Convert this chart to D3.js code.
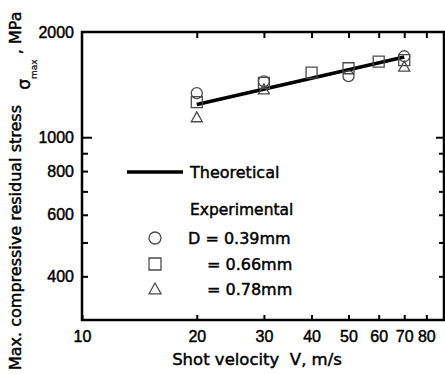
<!DOCTYPE html>
<html><head><meta charset="utf-8">
<script src="https://cdn.jsdelivr.net/npm/d3@7"></script>
<style>
html,body{margin:0;padding:0;background:#fff;}
svg{display:block;}
text{stroke:#000;stroke-width:0.45px;}
</style></head>
<body>
<svg id="chart" width="445" height="374"></svg>
<script>
// ---- data ----
const velocities = [20, 30, 40, 50, 60, 70];
const stressD039 = [1337, 1445, null, 1495, null, 1705];  // circles
const stressD066 = [1260, 1430, 1530, 1575, 1645, 1662];  // squares
const stressD078 = [1140, 1370, null, null, null, 1592];  // triangles
const theoryV = [20, 70];
const theoryStress = [1240, 1696];
const xTickValues = [10, 20, 30, 40, 50, 60, 70, 80];
const yLabelValues = [400, 600, 800, 1000, 2000];
const yMinorValues = [400, 500, 600, 700, 800, 900];
const yMajorValues = [1000];
const legendItems = ["D = 0.39mm", "= 0.66mm", "= 0.78mm"];

const svg = d3.select("#chart");
const L = 82, R = 444, T = 32, B = 320;
const x = d3.scaleLog().domain([10, 89]).range([L, R]);
const y = d3.scaleLog().domain([300, 2000]).range([B, T]);

const numFont = "'Liberation Sans', Arial, sans-serif";
const txtFont = "'DejaVu Sans', sans-serif";
const markColor = "#4a4a4a";

// symbol paths
function symPath(kind, s) {
  const h = s / 2;
  if (kind === "circle") return d3.symbol().type(d3.symbolCircle).size(Math.PI * h * h)();
  if (kind === "square") return `M${-h},${-h}H${h}V${h}H${-h}Z`;
  return `M0,${-h}L${h},${h * 0.8}L${-h},${h * 0.8}Z`;
}

// axes (ticks inward)
const gB = svg.append("g").attr("transform", `translate(0,${B})`)
  .call(d3.axisBottom(x).tickValues(xTickValues).tickSize(-5).tickPadding(10.5).tickFormat(d3.format("d")));
const gT = svg.append("g").attr("transform", `translate(0,${T})`)
  .call(d3.axisTop(x).tickValues(xTickValues.slice(1)).tickSize(-6).tickFormat(""));
const gL = svg.append("g").attr("transform", `translate(${L},0)`)
  .call(d3.axisLeft(y).tickValues(yMinorValues).tickSize(-6).tickFormat(""));
const gL2 = svg.append("g").attr("transform", `translate(${L},0)`)
  .call(d3.axisLeft(y).tickValues(yMajorValues).tickSize(-10).tickFormat(""));
const gL3 = svg.append("g").attr("transform", `translate(${L},0)`)
  .call(d3.axisLeft(y).tickValues(yLabelValues).tickSize(0).tickPadding(8).tickFormat(d3.format("d")));
const gR = svg.append("g").attr("transform", `translate(${R},0)`)
  .call(d3.axisRight(y).tickValues(yMinorValues).tickSize(-5).tickFormat(""));
const gR2 = svg.append("g").attr("transform", `translate(${R},0)`)
  .call(d3.axisRight(y).tickValues(yMajorValues).tickSize(-8).tickFormat(""));

[gB, gT, gL, gL2, gL3, gR, gR2].forEach(g => {
  g.select(".domain").remove();
  g.selectAll(".tick line").attr("stroke", "#000").attr("stroke-width", 2);
  g.selectAll(".tick text").attr("font-family", numFont).attr("font-size", 16).attr("fill", "#000");
});

// frame
svg.append("rect").attr("x", x.range()[0]).attr("y", y.range()[1])
  .attr("width", x.range()[1] - x.range()[0]).attr("height", y.range()[0] - y.range()[1])
  .attr("fill", "none").attr("stroke", "#000").attr("stroke-width", 2.5);

// theoretical line
svg.append("path")
  .datum(theoryV.map((v, i) => [v, theoryStress[i]]))
  .attr("d", d3.line().x(d => x(d[0])).y(d => y(d[1])))
  .attr("fill", "none").attr("stroke", "#000").attr("stroke-width", 3.5);

// experimental markers
const series = [
  { kind: "circle", vals: stressD039 },
  { kind: "square", vals: stressD066 },
  { kind: "triangle", vals: stressD078 }
];
series.forEach(s => {
  const pts = velocities.map((v, i) => [v, s.vals[i]]).filter(d => d[1] != null);
  svg.append("g").selectAll("path").data(pts).join("path")
    .attr("transform", d => `translate(${x(d[0])},${y(d[1])})`)
    .attr("d", symPath(s.kind, 11))
    .attr("fill", "none").attr("stroke", markColor).attr("stroke-width", 1.3);
});

// legend
const lg = svg.append("g");
lg.append("line").attr("x1", 127).attr("x2", 183).attr("y1", 172).attr("y2", 172)
  .attr("stroke", "#000").attr("stroke-width", 3.5);
lg.append("text").attr("x", 190).attr("y", 178).text("Theoretical")
  .attr("font-family", txtFont).attr("font-size", 16);
lg.append("text").attr("x", 190).attr("y", 215).text("Experimental")
  .attr("font-family", txtFont).attr("font-size", 15.5);
const legY = [238, 264, 289];
const legTextX = [188, 207, 207];
series.forEach((s, i) => {
  lg.append("path").attr("transform", `translate(155,${legY[i]})`)
    .attr("d", symPath(s.kind, 12)).attr("fill", "none").attr("stroke", markColor).attr("stroke-width", 1.3);
  lg.append("text").attr("x", legTextX[i]).attr("y", legY[i] + 6).text(legendItems[i])
    .attr("font-family", txtFont).attr("font-size", 16);
});

// axis titles
svg.append("text").attr("x", 257).attr("y", 365).attr("text-anchor", "middle")
  .attr("font-family", txtFont).attr("font-size", 16.5).style("white-space", "pre")
  .text("Shot velocity  V, m/s");

const yt = svg.append("text").attr("transform", "translate(21,370) rotate(-90)")
  .attr("font-family", txtFont).attr("font-size", 16).style("white-space", "pre");
yt.append("tspan").text("Max. compressive residual stress   ");
yt.append("tspan").attr("dy", 9).attr("font-size", 17).text("σ");
yt.append("tspan").attr("dy", 7).attr("font-size", 9).style("stroke-width", "0.2px").text("max");
yt.append("tspan").attr("dy", -16).text(" , MPa");
</script>
</body></html>
